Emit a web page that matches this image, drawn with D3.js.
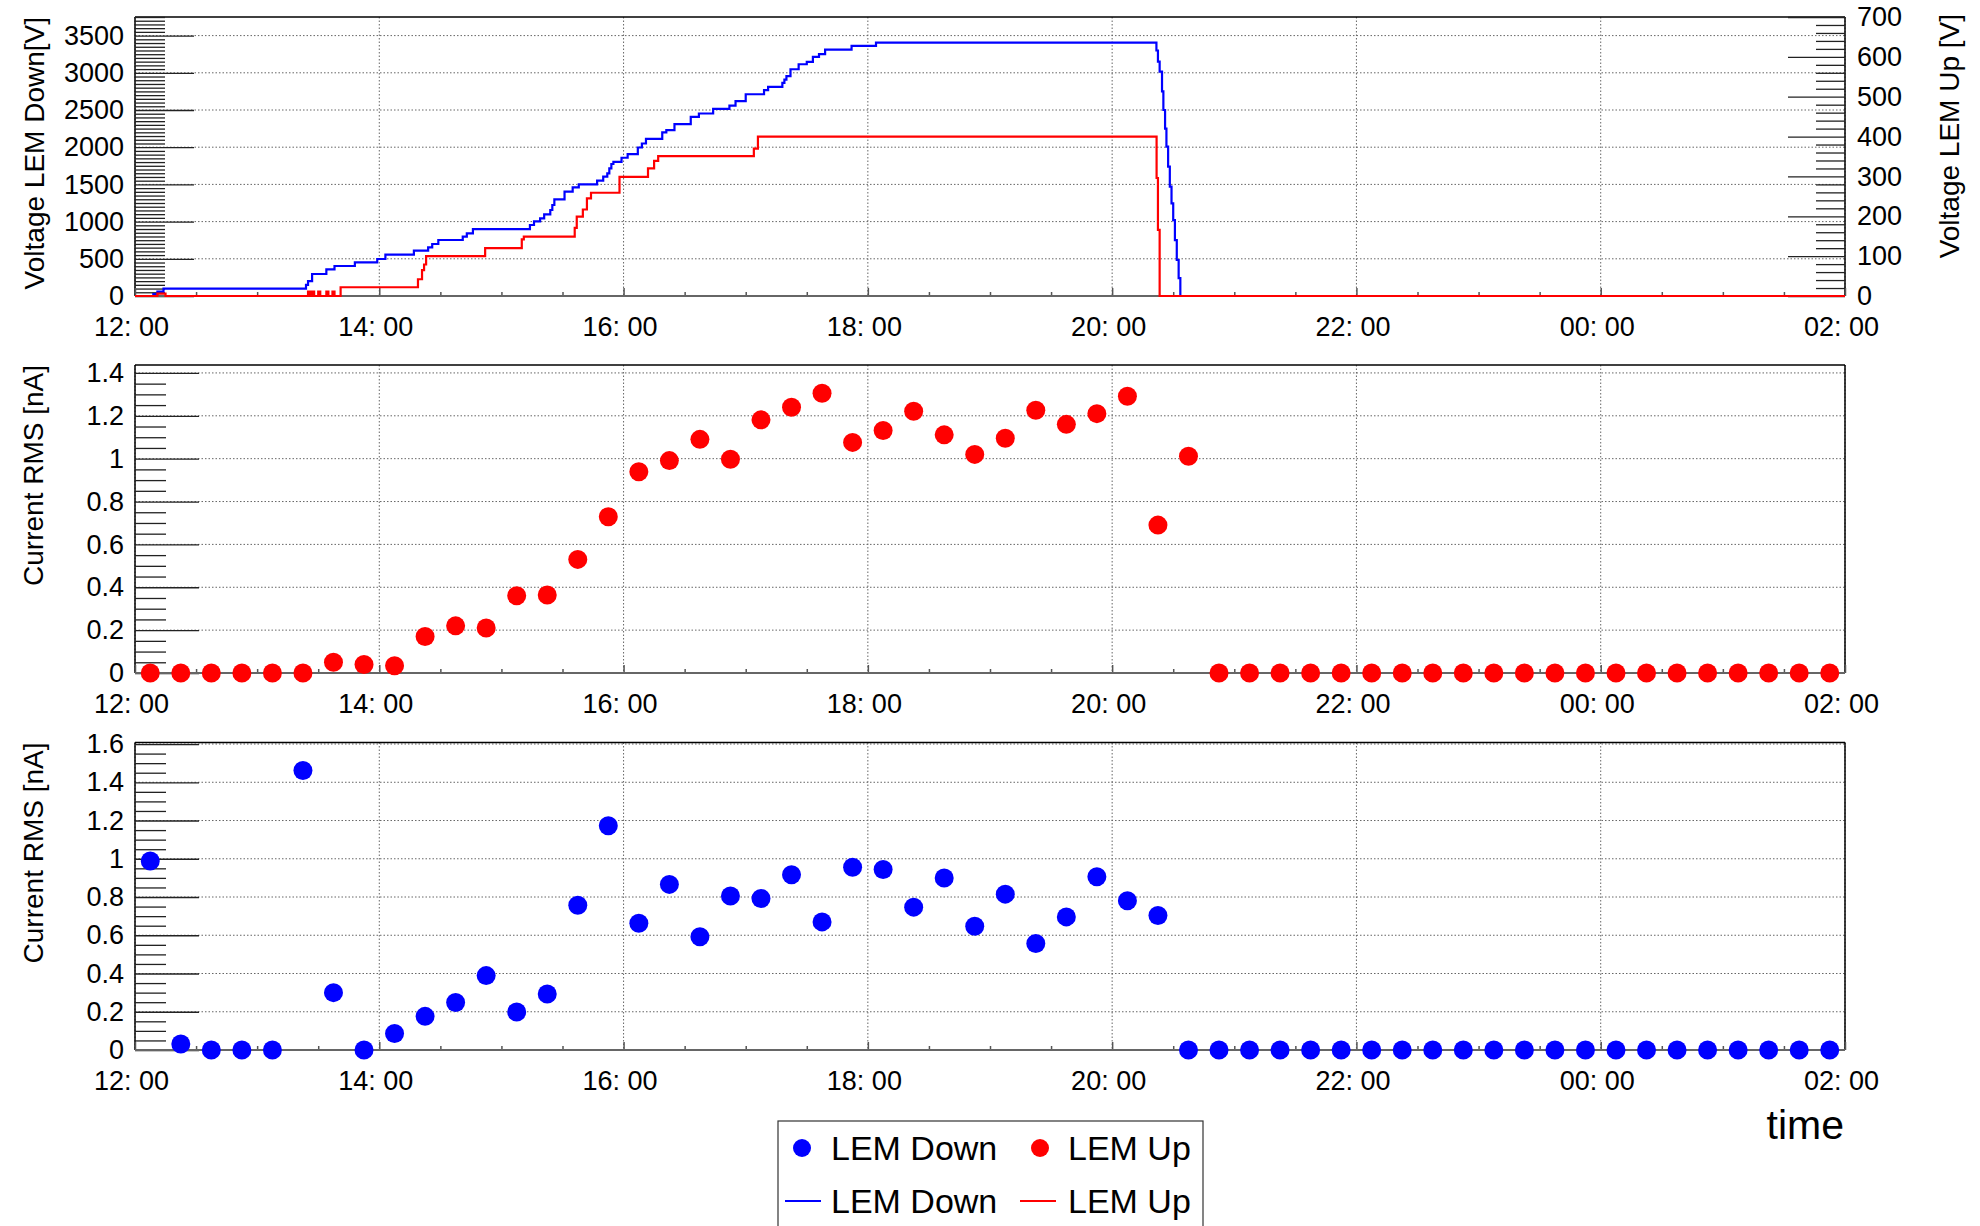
<!DOCTYPE html>
<html><head><meta charset="utf-8">
<script src="https://cdn.jsdelivr.net/npm/d3@7"></script>
<style>
html,body{margin:0;padding:0;background:#fff;}
svg{display:block;font-family:"Liberation Sans",Arial,Helvetica,sans-serif;}
</style></head><body>
<svg id="chart" width="1980" height="1226"></svg>
<script>
// ---------------- DATA ----------------
const currentTimes = ["12:07:30","12:22:30","12:37:30","12:52:30","13:07:30","13:22:30","13:37:30","13:52:30",
  "14:07:30","14:22:30","14:37:30","14:52:30","15:07:30","15:22:30","15:37:30","15:52:30",
  "16:07:30","16:22:30","16:37:30","16:52:30","17:07:30","17:22:30","17:37:30","17:52:30",
  "18:07:30","18:22:30","18:37:30","18:52:30","19:07:30","19:22:30","19:37:30","19:52:30",
  "20:07:30","20:22:30","20:37:30","20:52:30","21:07:30","21:22:30","21:37:30","21:52:30",
  "22:07:30","22:22:30","22:37:30","22:52:30","23:07:30","23:22:30","23:37:30","23:52:30",
  "00:07:30","00:22:30","00:37:30","00:52:30","01:07:30","01:22:30","01:37:30","01:52:30"];
const currentUp = [0,0,0,0,0,0,0.05,0.04,0.034,0.17,0.22,0.21,0.36,0.364,0.53,0.729,
  0.939,0.991,1.09,0.997,1.181,1.24,1.305,1.076,1.131,1.221,1.111,1.02,1.095,1.226,1.16,1.21,
  1.291,0.69,1.011,0,0,0,0,0,0,0,0,0,0,0,0,0,0,0,0,0,0,0,0,0];
const currentDown = [0.988,0.031,0,0,0,1.462,0.30,0,0.086,0.176,0.248,0.389,0.199,0.293,0.757,1.173,
  0.663,0.866,0.592,0.805,0.792,0.916,0.670,0.956,0.944,0.747,0.899,0.647,0.815,0.557,0.696,0.906,
  0.780,0.703,0,0,0,0,0,0,0,0,0,0,0,0,0,0,0,0,0,0,0,0,0,0];

const voltDownTimes = ["12:00","12:09","12:11","12:14","13:24","13:25","13:27","13:34","13:38","13:48","13:59",
  "14:03","14:17","14:24","14:26","14:29","14:41","14:43","14:46","15:14","15:16","15:19","15:21","15:24",
  "15:25","15:26","15:31","15:35","15:38","15:47","15:50","15:52","15:53","15:54","15:55","15:59","16:02",
  "16:07","16:09","16:11","16:19","16:21","16:25","16:33","16:37","16:44","16:52","16:55","17:00","17:09",
  "17:11","17:18","17:19","17:20","17:22","17:26","17:30","17:33","17:36","17:39","17:52","18:04",
  "20:21:45","20:22:30","20:23:20","20:24:30","20:25:10","20:26:00","20:26:40","20:27:30","20:28:20",
  "20:29:10","20:30:00","20:30:50","20:31:45","20:32:40","20:33:30","02:00"];
const voltDownValues = [0,25,58,100,150,200,296,358,403,452,497,
  555,609,654,699,753,797,842,900,954,1003,1044,1098,1156,
  1223,1299,1402,1460,1501,1550,1604,1649,1716,1774,1804,1858,1907,
  1996,2050,2113,2198,2230,2310,2408,2453,2516,2560,2618,2712,2766,
  2811,2865,2909,2954,3048,3115,3147,3214,3250,3312,3361,3406,
  3300,3150,3015,2750,2500,2250,2007,1740,1469,
  1245,1021,750,484,240,0,0];

const voltUpTimes = ["12:00","12:11","12:15","13:25","13:26","13:27","13:28","13:30","13:31","13:34","13:35",
  "13:37","13:38","13:41","14:19","14:21","14:22","14:23","14:52","15:10","15:11","15:36","15:37","15:40",
  "15:42","15:44","15:58","16:12","16:15","16:17","17:04","17:06","20:21:50","20:22:30","20:23:20","02:00"];
const voltUpValues = [0,6,0,11,0,11,0,11,0,11,0,
  11,0,22,42,65,79,100,120,142,149,171,199,217,
  245,259,299,320,339,351,370,400,296,166,0,0];

const timeTickLabels = ["12:00","14:00","16:00","18:00","20:00","22:00","00:00","02:00"];
const voltDownTicks = [0,500,1000,1500,2000,2500,3000,3500];
const voltUpTicks = [0,100,200,300,400,500,600,700];
const currentUpTicks = [0,0.2,0.4,0.6,0.8,1,1.2,1.4];
const currentDownTicks = [0,0.2,0.4,0.6,0.8,1,1.2,1.4,1.6];

// ---------------- LAYOUT ----------------
const svg = d3.select("#chart");
const FONT = '"Liberation Sans",Arial,Helvetica,sans-serif';
const xL = 135, xR = 1845;
const panels = {
  top: {y0: 17, y1: 296},
  mid: {y0: 365, y1: 673},
  bot: {y0: 742.5, y1: 1050}
};
const BLUE = "#0000ff", RED = "#ff0000";

function parseT(s){
  const p = s.split(":").map(Number);
  const d = new Date(2024,0,1,p[0],p[1],p[2]||0);
  if (p[0] < 12) d.setDate(d.getDate()+1);
  return d;
}
const x = d3.scaleTime().domain([parseT("12:00"), parseT("02:00")]).range([xL, xR]);
const xMajor = timeTickLabels.map(parseT);
const xMinor = d3.range(0, 14*60+1, 30).map(m => new Date(parseT("12:00").getTime() + m*60000))
  .filter(d => !xMajor.some(t => t.getTime() === d.getTime()));

const yTopL = d3.scaleLinear().domain([0, 3750]).range([panels.top.y1, panels.top.y0]);
const yTopR = d3.scaleLinear().domain([0, 700]).range([panels.top.y1, panels.top.y0]);
const yMid = d3.scaleLinear().domain([0, 1.437]).range([panels.mid.y1, panels.mid.y0]);
const yBot = d3.scaleLinear().domain([0, 1.608]).range([panels.bot.y1, panels.bot.y0]);

const fmtNum = d => String(+d.toFixed(2));

function styleAxisText(g, size){
  g.attr("font-family", FONT).attr("font-size", size);
  g.selectAll("text").attr("fill", "#000");
  g.select(".domain").remove();
}

function drawPanel(p, yScale, ticks, minorStep, majorLen, minorLen){
  const g = svg.append("g");
  // grid
  g.append("g").selectAll("line").data(xMajor).join("line")
    .attr("x1", d => x(d)).attr("x2", d => x(d))
    .attr("y1", p.y0).attr("y2", p.y1)
    .attr("stroke", "#666").attr("stroke-width", 1).attr("stroke-dasharray", "1.5,2");
  g.append("g").selectAll("line").data(ticks).join("line")
    .attr("x1", xL).attr("x2", xR)
    .attr("y1", d => yScale(d)).attr("y2", d => yScale(d))
    .attr("stroke", "#666").attr("stroke-width", 1).attr("stroke-dasharray", "1.5,2");
  // frame
  g.append("line").attr("x1", xL).attr("x2", xR).attr("y1", p.y0).attr("y2", p.y0)
    .attr("stroke", "#000").attr("stroke-width", 1.5);
  g.append("line").attr("x1", xL).attr("x2", xL).attr("y1", p.y0).attr("y2", p.y1)
    .attr("stroke", "#000").attr("stroke-width", 1.5);
  g.append("line").attr("x1", xR).attr("x2", xR).attr("y1", p.y0).attr("y2", p.y1)
    .attr("stroke", "#000").attr("stroke-width", 1.5);
  // y axis major
  const ya = g.append("g").attr("transform", `translate(${xL},0)`)
    .call(d3.axisLeft(yScale).tickValues(ticks).tickFormat(fmtNum)
      .tickSizeInner(-majorLen).tickSizeOuter(0).tickPadding(11));
  styleAxisText(ya, 27);
  ya.selectAll(".tick line").attr("stroke", "#222").attr("stroke-width", 1.3);
  // y axis minor
  const dom = yScale.domain();
  const minors = d3.range(0, dom[1] + 1e-9, minorStep)
    .filter(v => !ticks.some(t => Math.abs(t - v) < 1e-9));
  const ym = g.append("g").attr("transform", `translate(${xL},0)`)
    .call(d3.axisLeft(yScale).tickValues(minors).tickFormat("")
      .tickSizeInner(-minorLen).tickSizeOuter(0));
  styleAxisText(ym, 27);
  ym.selectAll(".tick line").attr("stroke", "#222").attr("stroke-width", 1.3);
  // x axis
  const xa = g.append("g").attr("transform", `translate(0,${p.y1})`)
    .call(d3.axisBottom(x).tickValues(xMajor).tickFormat(d3.timeFormat("%H: %M"))
      .tickSizeInner(-8).tickSizeOuter(0).tickPadding(21));
  styleAxisText(xa, 27);
  xa.selectAll(".tick line").attr("stroke", "#555").attr("stroke-width", 1.5);
  xa.selectAll(".tick text").attr("x", -4);
  const xm = g.append("g").attr("transform", `translate(0,${p.y1})`)
    .call(d3.axisBottom(x).tickValues(xMinor).tickFormat("")
      .tickSizeInner(-4).tickSizeOuter(0));
  styleAxisText(xm, 27);
  xm.selectAll(".tick line").attr("stroke", "#555").attr("stroke-width", 1.5);
  g.append("line").attr("x1", xL).attr("x2", xR).attr("y1", p.y1).attr("y2", p.y1)
    .attr("stroke", "#666").attr("stroke-width", 2);
  return g;
}

function yTitle(text, xPos, yTop){
  svg.append("text")
    .attr("transform", `translate(${xPos},${yTop}) rotate(-90)`)
    .attr("text-anchor", "end")
    .attr("font-family", FONT).attr("font-size", 28).attr("fill", "#000")
    .text(text);
}

// ---------------- TOP PANEL ----------------
drawPanel(panels.top, yTopL, voltDownTicks, 50, 59, 30);
// right axis
const yr = svg.append("g").attr("transform", `translate(${xR},0)`)
  .call(d3.axisRight(yTopR).tickValues(voltUpTicks).tickFormat(d3.format("d"))
    .tickSizeInner(-57).tickSizeOuter(0).tickPadding(12));
styleAxisText(yr, 27);
yr.selectAll(".tick line").attr("stroke", "#222").attr("stroke-width", 1.3);
const yrMinor = d3.range(0, 701, 20).filter(v => v % 100 !== 0);
const yrm = svg.append("g").attr("transform", `translate(${xR},0)`)
  .call(d3.axisRight(yTopR).tickValues(yrMinor).tickFormat("")
    .tickSizeInner(-29).tickSizeOuter(0));
styleAxisText(yrm, 27);
yrm.selectAll(".tick line").attr("stroke", "#222").attr("stroke-width", 1.3);

yTitle("Voltage LEM Down[V]", 44, panels.top.y0);
yTitle("Voltage LEM Up [V]", 1959, 14);

const downPts = voltDownTimes.map((t,i) => ({t: parseT(t), v: voltDownValues[i]}));
const upPts = voltUpTimes.map((t,i) => ({t: parseT(t), v: voltUpValues[i]}));
svg.append("path").datum(downPts)
  .attr("d", d3.line().x(d => x(d.t)).y(d => yTopL(d.v)).curve(d3.curveStepAfter))
  .attr("fill", "none").attr("stroke", BLUE).attr("stroke-width", 2.2);
svg.append("path").datum(upPts)
  .attr("d", d3.line().x(d => x(d.t)).y(d => yTopR(d.v)).curve(d3.curveStepAfter))
  .attr("fill", "none").attr("stroke", RED).attr("stroke-width", 2.2);

// ---------------- MIDDLE PANEL ----------------
drawPanel(panels.mid, yMid, currentUpTicks, 0.05, 64, 31);
yTitle("Current RMS [nA]", 43, panels.mid.y0);
svg.append("g").selectAll("circle").data(currentTimes).join("circle")
  .attr("cx", d => x(parseT(d))).attr("cy", (d,i) => yMid(currentUp[i]))
  .attr("r", 9.5).attr("fill", RED);

// ---------------- BOTTOM PANEL ----------------
drawPanel(panels.bot, yBot, currentDownTicks, 0.05, 64, 31);
yTitle("Current RMS [nA]", 43, panels.bot.y0);
svg.append("g").selectAll("circle").data(currentTimes).join("circle")
  .attr("cx", d => x(parseT(d))).attr("cy", (d,i) => yBot(currentDown[i]))
  .attr("r", 9.5).attr("fill", BLUE);

// x title
svg.append("text").attr("x", 1844).attr("y", 1139).attr("text-anchor", "end")
  .attr("font-family", FONT).attr("font-size", 41).attr("fill", "#000").text("time");

// ---------------- LEGEND ----------------
const lg = svg.append("g");
lg.append("rect").attr("x", 778).attr("y", 1121).attr("width", 425).attr("height", 130)
  .attr("fill", "#fff").attr("stroke", "#333").attr("stroke-width", 1.2);
const legendItems = [
  {kind: "dot", color: BLUE, label: "LEM Down", mx: 802, tx: 831, y: 1148},
  {kind: "dot", color: RED, label: "LEM Up", mx: 1040, tx: 1068, y: 1148},
  {kind: "line", color: BLUE, label: "LEM Down", mx: 803, tx: 831, y: 1201},
  {kind: "line", color: RED, label: "LEM Up", mx: 1038, tx: 1068, y: 1201}
];
legendItems.forEach(it => {
  if (it.kind === "dot") {
    lg.append("circle").attr("cx", it.mx).attr("cy", it.y).attr("r", 9).attr("fill", it.color);
  } else {
    lg.append("line").attr("x1", it.mx - 18).attr("x2", it.mx + 18)
      .attr("y1", it.y).attr("y2", it.y).attr("stroke", it.color).attr("stroke-width", 2);
  }
  lg.append("text").attr("x", it.tx).attr("y", it.y + 12)
    .attr("font-family", FONT).attr("font-size", 34).attr("fill", "#000").text(it.label);
});
</script>
</body></html>
